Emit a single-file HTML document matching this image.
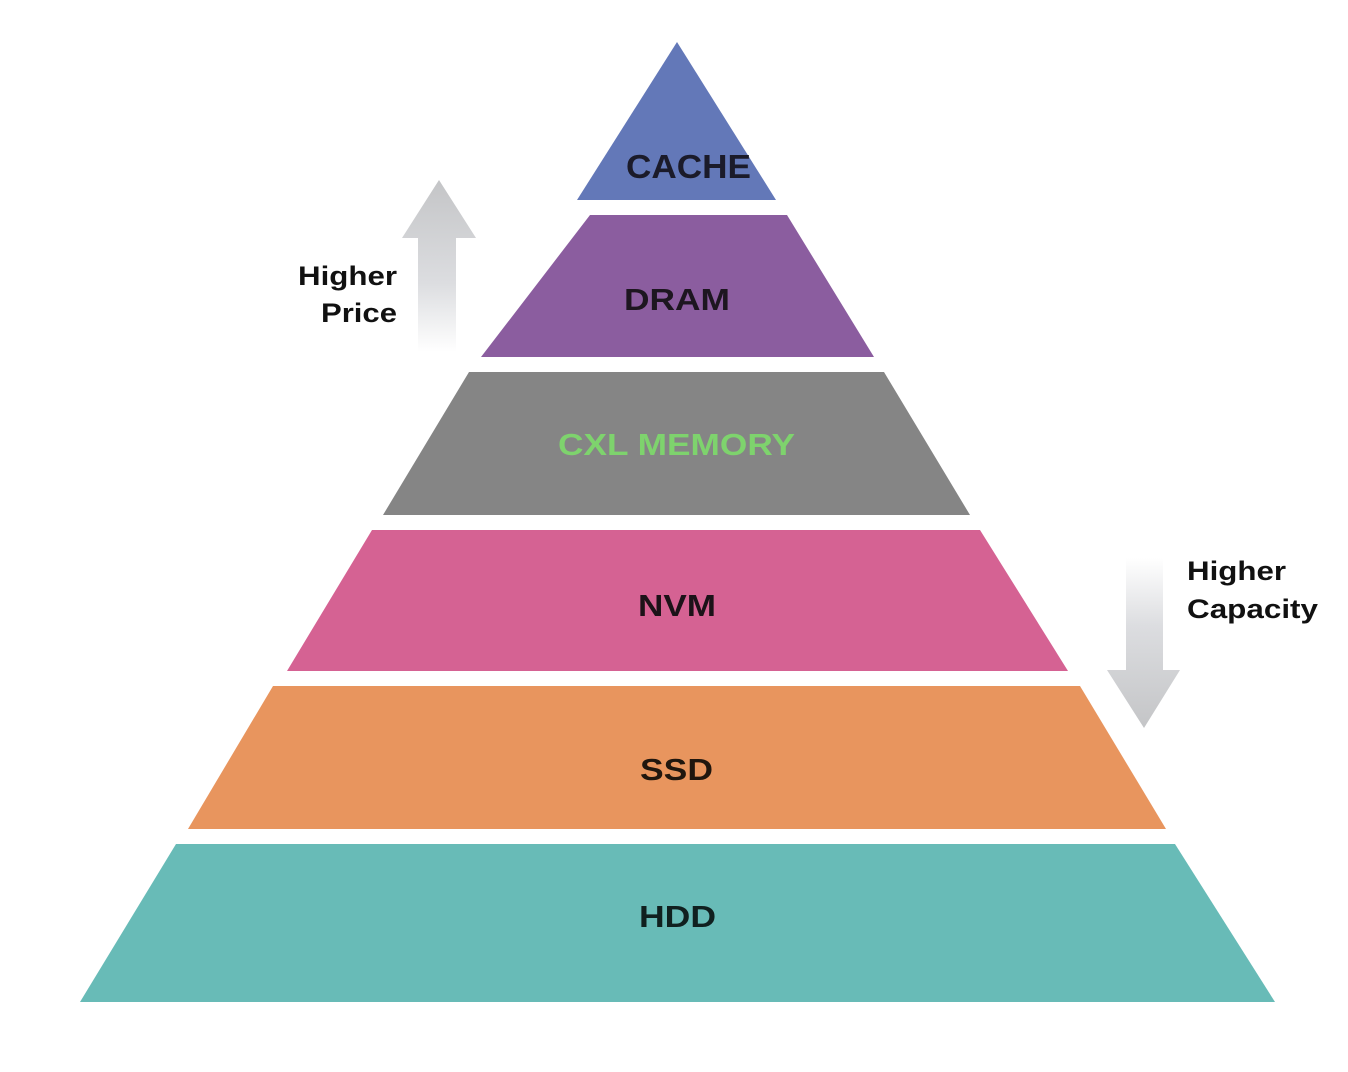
<!DOCTYPE html>
<html><head><style>
html,body{margin:0;padding:0;background:#fff;}
svg{display:block;}
text{font-family:"Liberation Sans",Arial,sans-serif;font-weight:bold;}
</style></head><body>
<svg width="1348" height="1072" viewBox="0 0 1348 1072" xmlns="http://www.w3.org/2000/svg">
<defs>
<linearGradient id="up" x1="0" y1="0" x2="0" y2="1">
<stop offset="0" stop-color="#c4c5c7"/><stop offset="0.6" stop-color="#dcdde0"/><stop offset="1" stop-color="#ffffff"/>
</linearGradient>
<linearGradient id="dn" x1="0" y1="1" x2="0" y2="0">
<stop offset="0" stop-color="#c4c5c7"/><stop offset="0.6" stop-color="#dcdde0"/><stop offset="1" stop-color="#ffffff"/>
</linearGradient>
</defs>
<polygon points="677,42 776,200 577,200" fill="#6378b8"/>
<polygon points="590,215 787,215 874,357 481,357" fill="#8b5d9f"/>
<polygon points="469,372 884,372 970,515 383,515" fill="#858585"/>
<polygon points="372,530 980,530 1068,671 287,671" fill="#d56293"/>
<polygon points="273,686 1080,686 1166,829 188,829" fill="#e8955e"/>
<polygon points="176,844 1175,844 1275,1002 80,1002" fill="#68bbb7"/>
<text x="626" y="178" font-size="33" textLength="125" lengthAdjust="spacingAndGlyphs" fill="#1b1b2a">CACHE</text>
<text x="624" y="310" font-size="31" textLength="106" lengthAdjust="spacingAndGlyphs" fill="#1d1620">DRAM</text>
<text x="558" y="455" font-size="31" textLength="237" lengthAdjust="spacingAndGlyphs" fill="#7ed36d">CXL MEMORY</text>
<text x="638" y="616" font-size="31" textLength="78" lengthAdjust="spacingAndGlyphs" fill="#1c1218">NVM</text>
<text x="640" y="780" font-size="31" textLength="73" lengthAdjust="spacingAndGlyphs" fill="#20160e">SSD</text>
<text x="639" y="927" font-size="31" textLength="77" lengthAdjust="spacingAndGlyphs" fill="#10201f">HDD</text>
<polygon points="439,180 476,238 456,238 456,352 418,352 418,238 402,238" fill="url(#up)"/>
<polygon points="1144,728 1180,670 1163,670 1163,558 1126,558 1126,670 1107,670" fill="url(#dn)"/>
<text x="298" y="285" font-size="27" textLength="99" lengthAdjust="spacingAndGlyphs" fill="#111">Higher</text>
<text x="321" y="322" font-size="27" textLength="76" lengthAdjust="spacingAndGlyphs" fill="#111">Price</text>
<text x="1187" y="580" font-size="27" textLength="99" lengthAdjust="spacingAndGlyphs" fill="#111">Higher</text>
<text x="1187" y="618" font-size="27" textLength="131" lengthAdjust="spacingAndGlyphs" fill="#111">Capacity</text>
</svg>
</body></html>
